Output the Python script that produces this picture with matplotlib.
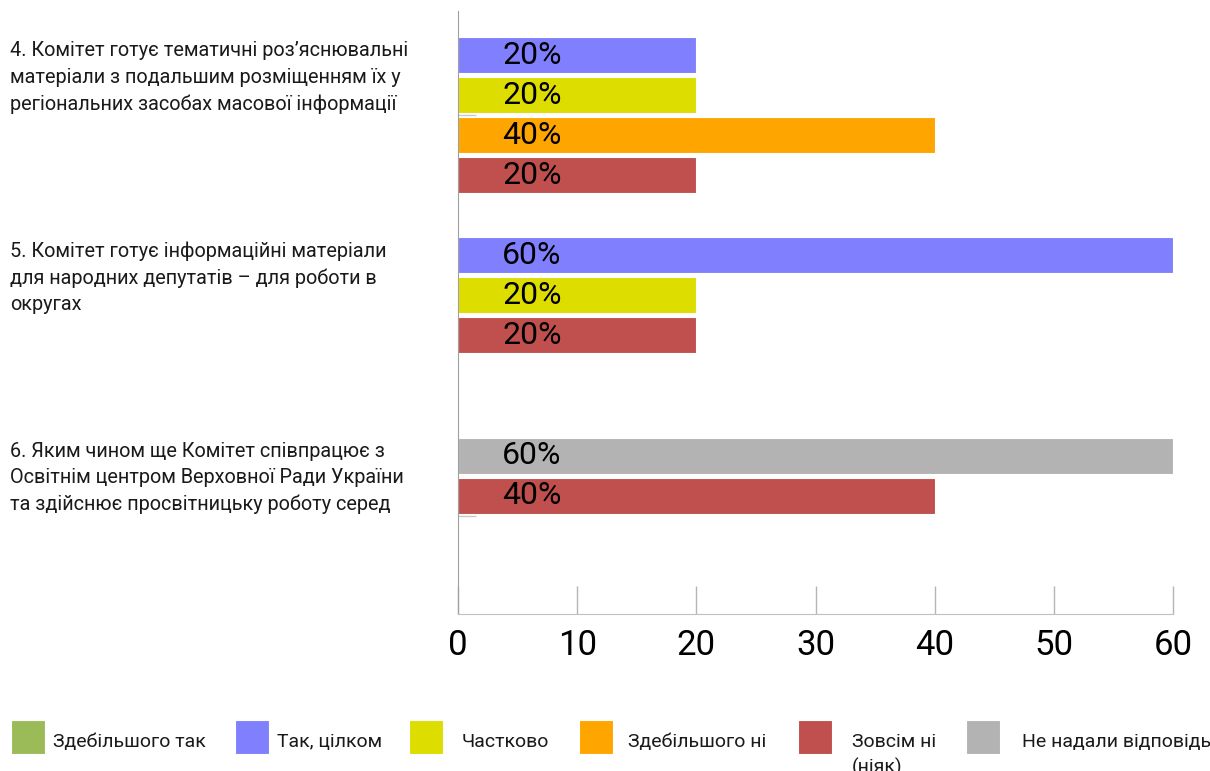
#!/usr/bin/env python3
"""Horizontal bar chart: committee survey answers for questions 4-6."""
import matplotlib
matplotlib.use("Agg")
import matplotlib.pyplot as plt
from matplotlib.patches import Rectangle
from matplotlib.transforms import blended_transform_factory

QUESTIONS = [
    "4. Комітет готує тематичні роз’яснювальні\nматеріали з подальшим розміщенням їх у\nрегіональних засобах масової інформації",
    "5. Комітет готує інформаційні матеріали\nдля народних депутатів – для роботи в\nокругах",
    "6. Яким чином ще Комітет співпрацює з\nОсвітнім центром Верховної Ради України\nта здійснює просвітницьку роботу серед",
]

SERIES = ["Здебільшого так", "Так, цілком", "Частково", "Здебільшого ні",
          "Зовсім ні\n(ніяк)", "Не надали відповідь"]
COLORS = ["#9BBB59", "#8080FF", "#DDDD00", "#FFA500", "#C0504D", "#B3B3B3"]

# percent per series, one value per question (4, 5, 6)
MOSTLY_YES = [0, 0, 0]
FULLY_YES = [20, 60, 0]
PARTLY = [20, 20, 0]
MOSTLY_NO = [40, 0, 0]
NOT_AT_ALL = [20, 20, 40]
NO_ANSWER = [0, 0, 60]
VALUES = [MOSTLY_YES, FULLY_YES, PARTLY, MOSTLY_NO, NOT_AT_ALL, NO_ANSWER]

# order in which non-empty bars are stacked top-down inside a group
DRAW_ORDER = [0, 1, 2, 3, 5, 4]

X_TICKS = [0, 10, 20, 30, 40, 50, 60]

W, H = 1210, 771
GROUP_STEP = 5
TEXT_FONT = ["Roboto", "DejaVu Sans"]
NUM_FONT = ["Liberation Sans Narrow", "Roboto", "DejaVu Sans"]


def main() -> None:
    fig = plt.figure(figsize=(W / 100, H / 100), dpi=100)
    ax = fig.add_axes([458 / W, 1 - 614 / H, (1173 - 458) / W, (614 - 11) / H])
    label_tf = blended_transform_factory(fig.transFigure, ax.transData)

    for qi in range(len(QUESTIONS)):
        slot = 0
        for si in DRAW_ORDER:
            val = VALUES[si][qi]
            if val == 0:
                continue
            y = qi * GROUP_STEP + slot
            ax.barh(y, val, height=0.9, color=COLORS[si],
                    edgecolor="white", linewidth=0.8, zorder=2)
            ax.text(6.2, y, f"{val}%", ha="center", va="center",
                    fontsize=23, family=TEXT_FONT, color="black", zorder=3)
            slot += 1
        ax.text(10 / W, qi * GROUP_STEP + 0.56, QUESTIONS[qi],
                transform=label_tf, ha="left", va="center",
                fontsize=14.3, family=TEXT_FONT, linespacing=1.5,
                color="#1a1a1a")

    ax.set_xlim(0, 60)
    ax.set_ylim(13.96, -1.107)
    ax.set_xticks(X_TICKS)
    ax.set_xticklabels([str(t) for t in X_TICKS], family=NUM_FONT, fontsize=25)
    ax.tick_params(axis="x", direction="in", length=20, width=1,
                   color="#B5B5B5", pad=11)
    ax.set_yticks([1.5, 11.5])
    ax.set_yticklabels([])
    ax.tick_params(axis="y", direction="in", length=13, width=1,
                   color="#C8C8C8")
    for side in ("top", "right"):
        ax.spines[side].set_visible(False)
    ax.spines["left"].set_color("#A0A0A0")
    ax.spines["bottom"].set_color("#C0C0C0")

    # legend drawn by hand so the wrapped label hangs below the row
    box_x = [11, 235, 409, 579, 798, 966]
    text_x = [53, 277, 462, 628, 852, 1022]
    for si, name in enumerate(SERIES):
        fig.patches.append(Rectangle((box_x[si] / W, 1 - 754 / H), 34 / W, 34 / H,
                                     transform=fig.transFigure,
                                     facecolor=COLORS[si], edgecolor="white",
                                     linewidth=0.8))
        for li, line in enumerate(name.split("\n")):
            fig.text(text_x[si] / W, 1 - (747 + 26 * li) / H, line,
                     ha="left", va="baseline", fontsize=14,
                     family=TEXT_FONT, color="#1a1a1a")

    fig.savefig("out.png", dpi=100)
    plt.close(fig)


if __name__ == "__main__":
    main()
